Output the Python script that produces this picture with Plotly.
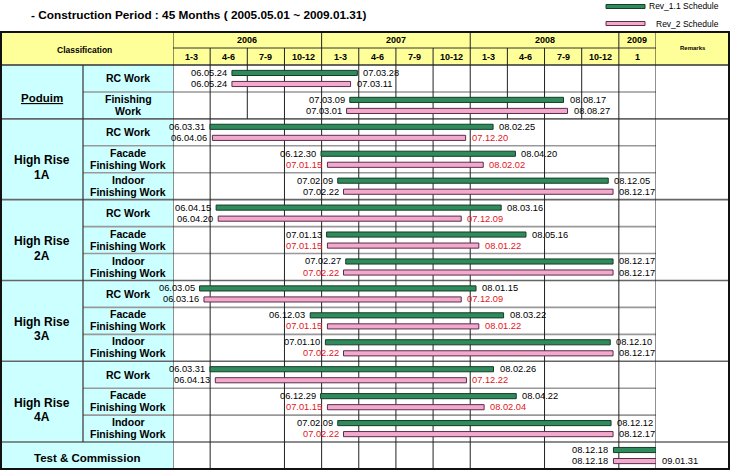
import calendar
import plotly.graph_objects as go

# ---------------- data ----------------
group_names = [["Poduim"], ["High Rise", "1A"], ["High Rise", "2A"],
               ["High Rise", "3A"], ["High Rise", "4A"], ["Test & Commission"]]
group_rows = [2, 3, 3, 3, 3, 1]
task_labels = [["RC Work"], ["Finishing", "Work"],
               ["RC Work"], ["Facade", "Finishing Work"], ["Indoor", "Finishing Work"],
               ["RC Work"], ["Facade", "Finishing Work"], ["Indoor", "Finishing Work"],
               ["RC Work"], ["Facade", "Finishing Work"], ["Indoor", "Finishing Work"],
               ["RC Work"], ["Facade", "Finishing Work"], ["Indoor", "Finishing Work"],
               []]
rev1_start = ["06.05.24", "07.03.09", "06.03.31", "06.12.30", "07.02.09",
              "06.04.15", "07.01.13", "07.02.27", "06.03.05", "06.12.03",
              "07.01.10", "06.03.31", "06.12.29", "07.02.09", "08.12.18"]
rev1_end = ["07.03.28", "08.08.17", "08.02.25", "08.04.20", "08.12.05",
            "08.03.16", "08.05.16", "08.12.17", "08.01.15", "08.03.22",
            "08.12.10", "08.02.26", "08.04.22", "08.12.12", "09.01.31"]
rev2_start = ["06.05.24", "07.03.01", "06.04.06", "07.01.15", "07.02.22",
              "06.04.20", "07.01.15", "07.02.22", "06.03.16", "07.01.15",
              "07.02.22", "06.04.13", "07.01.15", "07.02.22", "08.12.18"]
rev2_end = ["07.03.11", "08.08.27", "07.12.20", "08.02.02", "08.12.17",
            "07.12.09", "08.01.22", "08.12.17", "07.12.09", "08.01.22",
            "08.12.17", "07.12.22", "08.02.04", "08.12.17", "09.01.31"]
rev1_end_shown = [True] * 14 + [False]
rev2_start_changed = [False, False, False, True, False, False, True, True,
                      False, True, True, False, True, True, False]
rev2_end_changed = [False, False, True, True, False, True, True, False,
                    True, True, False, True, True, False, False]
years = ["2006", "2007", "2008", "2009"]
year_quarters = [4, 4, 4, 1]
quarter_labels = ["1-3", "4-6", "7-9", "10-12"] * 3 + ["1"]
series_names = ["Rev_1.1 Schedule", "Rev_2 Schedule"]
title_text = "- Construction Period : 45 Months ( 2005.05.01 ~ 2009.01.31)"

# ---------------- geometry / style ----------------
W, H = 731, 471
X0, XG, XD, XR, X1 = 1, 83, 173, 656, 729
Y0, YQ, YH, Y1 = 32, 48, 65, 469
NROWS = len(rev1_start)
NQ = len(quarter_labels)
FONT = "Liberation Sans, Arial, sans-serif"
GREEN, GREEN_LINE = "#2f8a5c", "#163d28"
PINK, PINK_LINE = "#f3a9cc", "#5a2d4c"
RED = "#e3141c"
BAR_OFF = 0.205
BAR_W = 0.19
DATE_SIZE = 9.3


def px(x):
    return x / W


def py(y):
    return 1 - y / H


def qpos(s):
    yy, mm, dd = (int(v) for v in s.split("."))
    year = 2000 + yy
    if year >= 2009:
        return 12 + dd / 31
    days = calendar.monthrange(year, mm)[1]
    return (year - 2006) * 4 + (mm - 1 + (dd - 0.5) / days) / 3


fig = go.Figure()

s1 = [qpos(d) for d in rev1_start]
e1 = [qpos(d) for d in rev1_end]
s2 = [qpos(d) for d in rev2_start]
e2 = [qpos(d) for d in rev2_end]
rows = list(range(NROWS))

fig.add_trace(go.Bar(
    orientation="h", y=[r + 0.5 - BAR_OFF for r in rows],
    x=[b - a for a, b in zip(s1, e1)], base=s1, width=BAR_W,
    marker=dict(color=GREEN, line=dict(color=GREEN_LINE, width=1)),
    name=series_names[0], showlegend=False, hoverinfo="skip"))
fig.add_trace(go.Bar(
    orientation="h", y=[r + 0.5 + BAR_OFF for r in rows],
    x=[b - a for a, b in zip(s2, e2)], base=s2, width=BAR_W,
    marker=dict(color=PINK, line=dict(color=PINK_LINE, width=1)),
    name=series_names[1], showlegend=False, hoverinfo="skip"))

shapes = []
ann = []


def rect(x0, y0, x1, y1, fill, line_w=0, line_c=None, layer="below"):
    shapes.append(dict(type="rect", xref="paper", yref="paper",
                       x0=px(x0), x1=px(x1), y0=py(y0), y1=py(y1),
                       fillcolor=fill, line=dict(width=line_w, color=line_c or fill),
                       layer=layer))


def hline(xa, xb, y, color, w, yref="paper"):
    yy = py(y) if yref == "paper" else y
    shapes.append(dict(type="line", xref="paper", yref=yref, x0=px(xa), x1=px(xb),
                       y0=yy, y1=yy, line=dict(color=color, width=w), layer="below"))


def vline_px(x, ya, yb, color, w):
    shapes.append(dict(type="line", xref="paper", yref="paper", x0=px(x), x1=px(x),
                       y0=py(ya), y1=py(yb), line=dict(color=color, width=w), layer="below"))


def vline_q(q, ya, yb, color, w):
    shapes.append(dict(type="line", xref="x", yref="paper", x0=q, x1=q,
                       y0=py(ya), y1=py(yb), line=dict(color=color, width=w), layer="below"))


# backgrounds
rect(X0, Y0, X1, YH, "#ffff99")
rect(X0, YH, XD, Y1, "#ccffff")

# horizontal lines
cum = 0
group_bounds = []
for g in group_rows:
    for k in range(1, g):
        hline(XG, XR, cum + k, "#999999", 1.6, yref="y")
    cum += g
    group_bounds.append(cum)
for b in group_bounds[:-1]:
    hline(X0, X1, b, "#666666", 1.6, yref="y")
hline(X0, X1, YH, "#333333", 1.5)
hline(XD, XR, YQ, "#333333", 1)

# vertical lines
podium_bottom_px = YH + (Y1 - YH) * group_rows[0] / NROWS
q = 0
year_edges = [0]
for n in year_quarters:
    q += n
    year_edges.append(q)
for k in range(NQ + 1):
    if k in year_edges:
        vline_q(k, Y0, Y1, "#222222", 1)
    elif k in (2, 9, 11):
        vline_q(k, YQ, podium_bottom_px, "#222222", 1)
    else:
        vline_q(k, YQ, Y1, "#222222", 1)
last_group_top_px = YH + (Y1 - YH) * (NROWS - group_rows[-1]) / NROWS
vline_px(XG, YH, last_group_top_px, "#333333", 1.2)

# outer border
shapes.append(dict(type="rect", xref="paper", yref="paper", x0=px(X0), x1=px(X1),
                   y0=py(Y0), y1=py(Y1), line=dict(color="#111111", width=2),
                   fillcolor="rgba(0,0,0,0)", layer="above"))


def text(x, y, t, size, bold=True, color="black", xanchor="center", xref="paper",
         yref="paper", xshift=0, yshift=0):
    ann.append(dict(x=x, y=y, xref=xref, yref=yref, text=("<b>%s</b>" % t) if bold else t,
                    showarrow=False, xanchor=xanchor, yanchor="middle",
                    xshift=xshift, yshift=yshift,
                    font=dict(family=FONT, size=size, color=color)))


# title + legend
text(px(29), py(15), title_text, 11.8, xanchor="left")
rect(606, 4.5, 645, 8.5, GREEN, 1, GREEN_LINE, layer="above")
rect(606, 21.5, 645, 25.5, PINK, 1, PINK_LINE, layer="above")
text(px(721), py(6.5), series_names[0], 8.5, bold=False, xanchor="right")
text(px(721), py(24), series_names[1], 8.5, bold=False, xanchor="right")

# header texts
text(px((X0 + XD) / 2 - 3), py(50), "Classification", 8.5)
text(px((XR + X1) / 2), py(48), "Remarks", 6)
q = 0
for yname, n in zip(years, year_quarters):
    text(q + n / 2, py(40), yname, 9, xref="x")
    q += n
for k, ql in enumerate(quarter_labels):
    text(k + 0.5, py(57), ql, 9, xref="x")

# group + task labels
r0 = 0
for gname, g in zip(group_names, group_rows):
    if g == 1:
        text(px((X0 + XD) / 2), r0 + 0.5, gname[0], 11.5, yref="y", yshift=-2)
    else:
        c = r0 + g / 2
        if len(gname) == 1:
            text(px((X0 + XG) / 2), c, "<u>%s</u>" % gname[0], 11.5, yref="y", yshift=-6)
        else:
            text(px((X0 + XG) / 2), c, gname[0], 12, yref="y", yshift=-1)
            text(px((X0 + XG) / 2), c, gname[1], 12, yref="y", yshift=-15.5)
    r0 += g
for r, lines in enumerate(task_labels):
    if len(lines) == 1:
        text(px((XG + XD) / 2), r + 0.5, lines[0], 10.5, yref="y")
    elif len(lines) == 2:
        text(px((XG + XD) / 2), r + 0.5, lines[0], 10.5, yref="y", yshift=6.5)
        text(px((XG + XD) / 2), r + 0.5, lines[1], 10.5, yref="y", yshift=-5.5)


def date_label(x, y, t, anchor, color):
    ann.append(dict(x=x, y=y, xref="x", yref="y", text=t, showarrow=False,
                    xanchor=anchor, yanchor="middle", xshift=-3 if anchor == "right" else 4,
                    font=dict(family=FONT, size=DATE_SIZE, color=color)))


for r in rows:
    yg = r + 0.5 - BAR_OFF
    yp = r + 0.5 + BAR_OFF
    date_label(s1[r], yg, rev1_start[r], "right", "black")
    if rev1_end_shown[r]:
        date_label(e1[r], yg, rev1_end[r], "left", "black")
    date_label(s2[r], yp, rev2_start[r], "right", RED if rev2_start_changed[r] else "black")
    date_label(e2[r], yp, rev2_end[r], "left", RED if rev2_end_changed[r] else "black")

fig.update_layout(
    width=W, height=H, margin=dict(l=0, r=0, t=0, b=0, pad=0),
    paper_bgcolor="white", plot_bgcolor="rgba(0,0,0,0)",
    barmode="overlay", showlegend=False,
    xaxis=dict(domain=[px(XD), px(XR)], range=[0, NQ], visible=False, fixedrange=True),
    yaxis=dict(domain=[py(Y1), py(YH)], range=[NROWS, 0], visible=False, fixedrange=True),
    shapes=shapes, annotations=ann,
)

fig.write_html("out.html")
